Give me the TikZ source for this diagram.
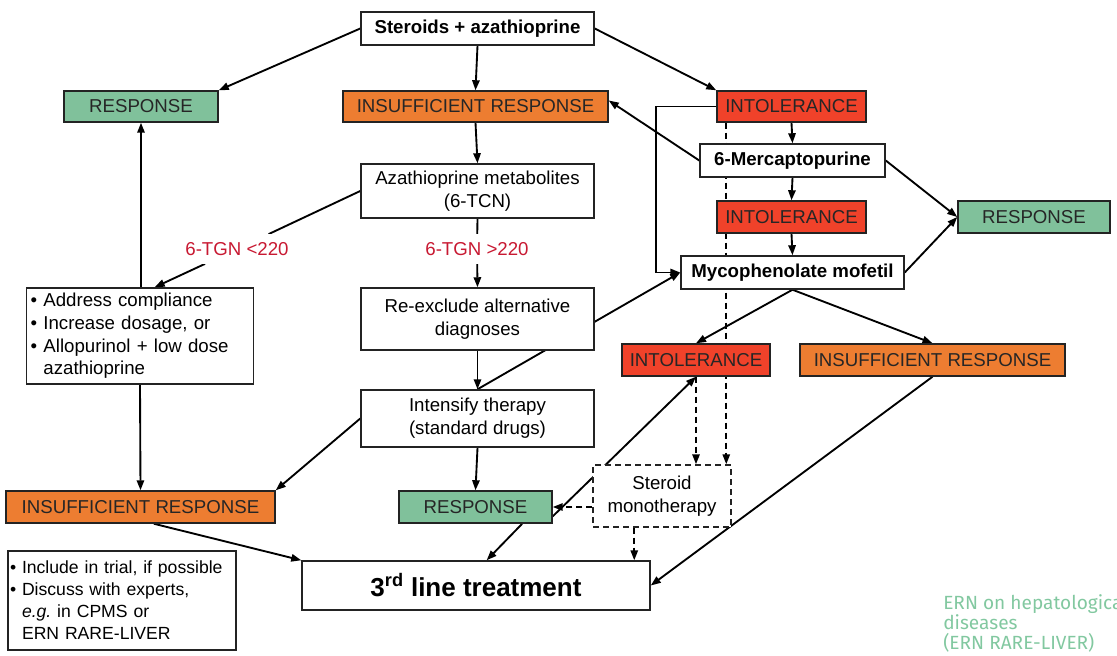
\documentclass[tikz,border=0pt]{standalone}
\usepackage{fontspec}
\setmainfont{Liberation Sans}
\newfontfamily\ernfont{Fira Sans}
\usetikzlibrary{arrows.meta,calc,backgrounds}

\definecolor{respgreen}{RGB}{128,193,155}
\definecolor{insorange}{RGB}{237,125,49}
\definecolor{intolred}{RGB}{240,66,42}
\definecolor{tgnred}{RGB}{200,25,50}
\definecolor{erngreen}{RGB}{130,200,160}
\definecolor{boxline}{RGB}{35,35,35}

\begin{document}
\begin{tikzpicture}[x=0.75pt,y=0.75pt,yscale=-1,xscale=1,
    box/.style={draw=boxline, line width=1.1pt, fill=white, inner sep=2pt, align=center,
        font=\fontsize{14}{17}\selectfont},
    respbox/.style={box, fill=respgreen, text=black!85},
    insbox/.style={box, fill=insorange, text=black!85},
    intolbox/.style={box, fill=intolred, text=black!85},
    tgnlabel/.style={fill=white, inner xsep=2pt, inner ysep=6pt, text=tgnred,
        font=\fontsize{14}{17}\selectfont},
    conn/.style={line width=1.4pt, draw=black},
    dashconn/.style={conn, dash pattern={on 4.5pt off 3pt}},
    >={Triangle[length=7.5pt,width=5.5pt]}]
    \useasboundingbox (0,0) rectangle (1117,656);

    % Node: start
    \node [box, font=\bfseries\fontsize{14}{17}\selectfont, minimum width=174.75pt, minimum height=24.75pt] (start) at (477.5,28.5) {Steroids + azathioprine};
    % Node: first outcomes
    \node [respbox, minimum width=115.5pt, minimum height=23.25pt] (respTL) at (141,106.5) {RESPONSE};
    \node [insbox, minimum width=198.75pt, minimum height=23.25pt] (insTop) at (475.5,106.5) {INSUFFICIENT RESPONSE};
    \node [intolbox, minimum width=111.75pt, minimum height=23.25pt] (intolA) at (791.5,106.5) {INTOLERANCE};
    % Node: second line column
    \node [box, font=\bfseries\fontsize{14}{17}\selectfont, minimum width=138.75pt, minimum height=24.75pt] (mp) at (792.5,160.5) {6-Mercaptopurine};
    \node [intolbox, minimum width=111.75pt, minimum height=24pt] (intolB) at (791.5,217) {INTOLERANCE};
    \node [box, font=\bfseries\fontsize{14}{17}\selectfont, minimum width=167.25pt, minimum height=24.75pt] (mmf) at (792.5,272.5) {Mycophenolate mofetil};
    \node [respbox, minimum width=114pt, minimum height=24pt] (respR) at (1034,217) {RESPONSE};
    \node [intolbox, minimum width=111pt, minimum height=24pt] (intolC) at (696,360) {INTOLERANCE};
    \node [insbox, minimum width=198.75pt, minimum height=24pt] (insR) at (932.5,360) {INSUFFICIENT RESPONSE};
    % Node: metabolites column
    \node [box, minimum width=174.75pt, minimum height=40.5pt] (metab) at (477.5,191) {Azathioprine metabolites\\(6-TCN)};
    \node [tgnlabel] (tgnlo) at (237,249) {6-TGN <220};
    \node [tgnlabel] (tgnhi) at (477,249) {6-TGN >220};
    \node [box, align=left, inner sep=3pt, text width=164pt, minimum height=72pt] (addr) at (140,336) {\textbullet\ Address compliance\\\textbullet\ Increase dosage, or\\\textbullet\ Allopurinol + low dose\\\phantom{\textbullet\ }azathioprine};
    \node [box, minimum width=174.75pt, minimum height=46.5pt] (reex) at (477.5,319) {Re-exclude alternative\\diagnoses};
    \node [box, minimum width=174.75pt, minimum height=42.75pt] (intens) at (477.5,418.5) {Intensify therapy\\(standard drugs)};
    \node [box, dash pattern={on 4.5pt off 3pt}, minimum width=103.5pt, minimum height=46.5pt] (mono) at (662,496) {Steroid\\monotherapy};
    % Node: bottom row
    \node [insbox, minimum width=201.75pt, minimum height=24pt] (insBL) at (140.5,507) {INSUFFICIENT RESPONSE};
    \node [respbox, minimum width=114.75pt, minimum height=24pt] (respM) at (475.5,507) {RESPONSE};
    \node [box, font=\bfseries\fontsize{19.5}{22}\selectfont, minimum width=261pt, minimum height=36.75pt] (third) at (476,585.5) {3\textsuperscript{rd} line treatment};
    \node [box, align=left, inner sep=1.5pt, text width=168pt, minimum height=74.25pt, font=\fontsize{13.2}{16.5}\selectfont] (trial) at (122,600.5) {\textbullet\ Include in trial, if possible\\\textbullet\ Discuss with experts,\\\phantom{\textbullet\ }\textit{e.g.}\ in CPMS or\\\phantom{\textbullet\ }ERN RARE-LIVER};
    % Text Node
    \node [anchor=north west, align=left, inner sep=0pt, text=erngreen, font=\ernfont\fontsize{14.3}{15}\selectfont] (ern) at (943,594) {ERN on hepatological\\diseases\\(ERN RARE-LIVER)};

    \coordinate (dtop) at ($(intolA.south west)+(10,0)$);
    \coordinate (dbot) at ($(mono.south west)+(42,0)$);

    \begin{scope}[on background layer]
    %Straight Lines from start
    \draw [conn,->] (start.west) -- (respTL.north east);
    \draw [conn,->] (start.south) -- (insTop.north);
    \draw [conn,->] (start.east) -- (intolA.north west);
    %Straight Lines second line
    \draw [conn,->] (intolA.south) -- (mp.north);
    \draw [conn,->] (mp.west) -- ([yshift=-4.5pt]insTop.east);
    \draw [conn,->] (mp.south) -- (intolB.north);
    \draw [conn,->] (intolB.south) -- (mmf.north);
    \draw [conn,->] (mp.east) -- (respR.west);
    \draw [conn,->] (mmf.east) -- (respR.west);
    \draw [conn,->] (intolA.west) -- ++(-60,0) |- (mmf.west);
    \draw [conn,->] (mmf.south) -- (intolC.north);
    \draw [conn,->] (mmf.south) -- (insR.north);
    \draw [conn,->] (intens.north) -- (mmf.west);
    %Straight Lines metabolites
    \draw [conn,->] (insTop.south) -- (metab.north);
    \draw [conn] (metab.west) -- (tgnlo);
    \draw [conn,->] (tgnlo) -- ([xshift=11pt]addr.north);
    \draw [conn] (metab.south) -- (tgnhi);
    \draw [conn,->] (tgnhi) -- (reex.north);
    \draw [conn,->] (reex.south) -- (intens.north);
    \draw [conn,->] (addr.north -| respTL.south) -- (respTL.south);
    \draw [conn,->] (addr.south) -- (insBL.north);
    \draw [conn,->] (intens.west) -- (insBL.north east);
    \draw [conn,->] (intens.south) -- (respM.north);
    %Straight Lines to third line
    \draw [conn,->] ([xshift=10pt]insBL.south) -- (third.north west);
    \draw [conn,->] ([xshift=35pt]respM.south) -- ([xshift=8pt]third.north);
    \draw [conn,->] ([yshift=7pt]respM.east) -- (intolC.south);
    \draw [conn,->] (insR.south) -- (third.east);
    %Dashed Lines
    \draw [dashconn,->] (dtop) -- (dtop |- mono.north);
    \draw [dashconn,->] (intolC.south) -- (intolC.south |- mono.north);
    \draw [dashconn,->] (mono.west |- respM.east) -- (respM.east);
    \draw [dashconn,->] (dbot) -- (dbot |- third.north);
    \end{scope}

\end{tikzpicture}
\end{document}
